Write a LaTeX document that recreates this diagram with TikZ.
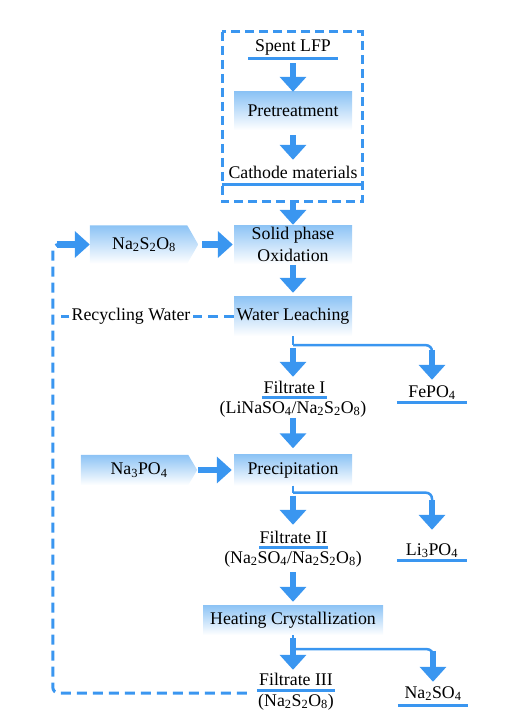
\documentclass[tikz,border=0pt]{standalone}
\usepackage{fontspec}
\setmainfont{Liberation Serif}
\newfontfamily\tnr{Liberation Serif}
\usetikzlibrary{arrows.meta,backgrounds,calc}
\definecolor{ablue}{RGB}{58,150,240}
\definecolor{boxtop}{RGB}{140,195,245}
\begin{document}
\begin{tikzpicture}[x=1pt,y=-1pt,
  every node/.style={font=\tnr\fontsize{17.8}{22}\selectfont},
  box/.style={top color=boxtop,bottom color=white,minimum width=118pt,inner sep=0pt,align=center},
  lbl/.style={inner sep=0pt,anchor=base,text height=13pt},
  ul/.style={draw=ablue,line width=3pt},
  big/.style={draw=ablue,line width=6.5pt,-{Triangle[width=26pt,length=15pt]}},
  thinline/.style={draw=ablue,line width=2.5pt},
  dashline/.style={draw=ablue,line width=3pt,dash pattern=on 10pt off 6pt},
]
\useasboundingbox (0,0) rectangle (504,727);

% dashed pretreatment frame
\draw[dashline,dash pattern=on 9pt off 5pt] (222,32) rectangle (362,202);

% process boxes
\node[box,minimum height=38pt] (pre) at (293,111) {Pretreatment};
\node[box,minimum height=39pt] (sol) at (293,244.5) {Solid phase\\Oxidation};
\node[box,minimum height=40pt] (wl) at (293,316) {Water Leaching};
\node[box,minimum height=31pt] (prec) at (293,470) {Precipitation};
\node[box,minimum width=180pt,minimum height=30pt] (heat) at (293,620) {Heating Crystallization};

% reagent (pointed) boxes
\node[inner sep=0pt,minimum width=108pt,minimum height=38pt] (nas) at (144,244.5) {Na\textsubscript{2}S\textsubscript{2}O\textsubscript{8}};
\node[inner sep=0pt,minimum width=116pt,minimum height=30pt] (nap) at (139,470) {Na\textsubscript{3}PO\textsubscript{4}};
\begin{scope}[on background layer]
\shade[top color=boxtop,bottom color=white] (nas.north west) -- ([xshift=-11pt]nas.north east) -- (nas.east) -- ([xshift=-11pt]nas.south east) -- (nas.south west) -- cycle;
\shade[top color=boxtop,bottom color=white] (nap.north west) -- ([xshift=-9pt]nap.north east) -- (nap.east) -- ([xshift=-9pt]nap.south east) -- (nap.south west) -- cycle;
\end{scope}

% labels
\node[lbl,minimum width=89pt,text depth=6pt] (lfp) at (293,52) {Spent LFP};
\node[lbl,minimum width=142pt,text depth=5pt] (cath) at (293,179) {Cathode materials};
\node[lbl,minimum width=65pt,text depth=4pt] (f1) at (294.5,393) {Filtrate I};
\node[lbl,text depth=4pt] (f1b) at (293,413) {(LiNaSO\textsubscript{4}/Na\textsubscript{2}S\textsubscript{2}O\textsubscript{8})};
\node[lbl,minimum width=70pt,text depth=5pt] (fepo) at (432,397) {FePO\textsubscript{4}};
\node[lbl,minimum width=67pt,text depth=4pt] (f2) at (293.5,543) {Filtrate II};
\node[lbl,text depth=4pt] (f2b) at (293,563) {(Na\textsubscript{2}SO\textsubscript{4}/Na\textsubscript{2}S\textsubscript{2}O\textsubscript{8})};
\node[lbl,minimum width=70pt,text depth=5pt] (li) at (432,555) {Li\textsubscript{3}PO\textsubscript{4}};
\node[lbl,minimum width=78pt,text depth=5pt] (f3) at (296,685) {Filtrate III};
\node[lbl,text depth=4pt] (f3b) at (296,706) {(Na\textsubscript{2}S\textsubscript{2}O\textsubscript{8})};
\node[lbl,minimum width=70pt,text depth=7pt] (naso) at (433,698) {Na\textsubscript{2}SO\textsubscript{4}};
\node[inner sep=2pt] (rw) at (131,316) {Recycling Water};

\foreach \n in {lfp,cath,f1,fepo,f2,li,f3,naso}
  \draw[ul] (\n.south west) -- (\n.south east);

% main column arrows
\draw[big] ($(lfp.south)+(0,5)$) -- (pre.north);
\draw[big] ($(pre.south)+(0,5)$) -- ($(cath.north)+(0,-6)$);
\draw[big] ($(cath.south)+(0,19)$) -- (sol.north);
\draw[big] ($(sol.south)+(0,1)$) -- ($(wl.north)+(0,-3)$);

% water leaching split
\coordinate (j1) at ($(wl.south)+(0,9)$);
\draw[thinline] (wl.south) -- (j1);
\draw[thinline,rounded corners=6pt] (j1) -| ($(fepo.north)+(0,-32)$);
\draw[big] ($(fepo.north)+(0,-34)$) -- ($(fepo.north)+(0,-4)$);
\draw[big] ($(j1)+(0,3)$) -- ($(j1 |- f1.north)+(0,-3)$);

\draw[big] ($(f1b.south)+(0,1)$) -- ($(f1b.south |- prec.north)+(0,-6)$);

% precipitation split
\coordinate (j2) at ($(prec.south)+(0,7)$);
\draw[thinline] (prec.south) -- (j2);
\draw[thinline,rounded corners=6pt] (j2) -| ($(li.north)+(0,-40)$);
\draw[big] ($(li.north)+(0,-42)$) -- ($(li.north)+(0,-12)$);
\draw[big] ($(j2)+(0,3)$) -- ($(j2 |- f2.north)+(0,-5)$);

\draw[big] ($(f2b.south)+(0,5)$) -- ($(f2b.south |- heat.north)+(0,-3)$);

% heating split
\coordinate (j3) at ($(heat.south)+(0,14)$);
\draw[thinline] (heat.south) -- (j3);
\draw[thinline,rounded corners=6pt] (j3) -| ($(naso.north)+(0,-33)$);
\draw[big] ($(naso.north)+(0,-34)$) -- ($(naso.north)+(0,-3)$);
\draw[big] ($(heat.south)+(0,3)$) -- ($(heat.south |- f3.north)+(0,-2)$);

% reagent arrows
\draw[big] ($(nas.east)+(4,0)$) -- ($(sol.west)+(-1,0)$);
\draw[big] ($(nap.east)+(1,0)$) -- ($(prec.west)+(-2,0)$);

% recycling loops
\draw[dashline] (wl.west) -- (rw.east);
\draw[dashline] (rw.west) -- ++(-8,0);
\draw[dashline,rounded corners=6pt] ($(f3.south west)+(-10,3)$) -| ($(nas.west)+(-37,0)$) -- ($(nas.west)+(-30,0)$);
\draw[big] ($(nas.west)+(-33,0)$) -- (nas.west);
\end{tikzpicture}
\end{document}
